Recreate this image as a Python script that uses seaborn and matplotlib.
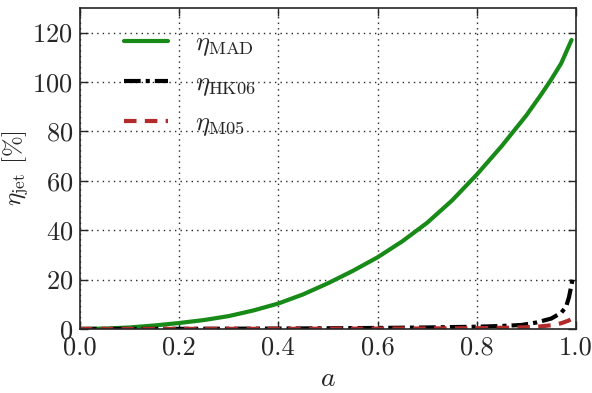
import matplotlib
matplotlib.use("Agg")
import matplotlib.pyplot as plt
import seaborn as sns
import pandas as pd

# data
a_mad = [0.0, 0.05, 0.1, 0.15, 0.2, 0.25, 0.3, 0.35, 0.4, 0.45, 0.5, 0.55, 0.6, 0.65, 0.7, 0.75, 0.8, 0.85, 0.9, 0.93, 0.95, 0.97, 0.991]
eta_mad = [0.0, 0.15, 0.6, 1.4, 2.4, 3.6, 5.2, 7.5, 10.3, 14.0, 18.5, 23.5, 29.0, 35.5, 43.0, 52.0, 62.5, 74.0, 86.5, 95.0, 101.0, 107.5, 117.0]

a_hk = [0.0, 0.2, 0.4, 0.6, 0.7, 0.8, 0.85, 0.89, 0.92, 0.95, 0.97, 0.98, 0.986, 0.99, 0.993]
eta_hk = [0.0, 0.05, 0.15, 0.4, 0.6, 0.9, 1.2, 1.6, 2.6, 4.2, 6.5, 9.0, 13.0, 17.0, 20.0]

a_m05 = [0.0, 0.2, 0.4, 0.6, 0.8, 0.88, 0.92, 0.95, 0.97, 0.984, 0.991]
eta_m05 = [0.0, 0.02, 0.05, 0.12, 0.3, 0.55, 0.85, 1.5, 2.3, 3.3, 4.0]

sns.set_style("ticks")
plt.rcParams.update({
    "font.family": "serif",
    "font.serif": ["cmr10", "DejaVu Serif"],
    "mathtext.fontset": "cm",
    "axes.formatter.use_mathtext": True,
    "axes.unicode_minus": False,
    "xtick.direction": "in",
    "ytick.direction": "in",
    "xtick.top": True,
    "ytick.right": True,
})

fig = plt.figure(figsize=(5.92, 3.93), dpi=100)
ax = fig.add_axes([0.135, 0.163, 0.838, 0.817])

df_mad = pd.DataFrame({"a": a_mad, "eta": eta_mad})
df_hk = pd.DataFrame({"a": a_hk, "eta": eta_hk})
df_m05 = pd.DataFrame({"a": a_m05, "eta": eta_m05})

sns.lineplot(data=df_mad, x="a", y="eta", ax=ax, color="#178a17", lw=3,
             label=r"$\eta_{\rm MAD}$")
sns.lineplot(data=df_hk, x="a", y="eta", ax=ax, color="black", lw=3,
             linestyle=(0, (4, 1.2, 1, 1.2)), label=r"$\eta_{\rm HK06}$")
sns.lineplot(data=df_m05, x="a", y="eta", ax=ax, color="#b22a2a", lw=3,
             linestyle=(0, (3, 2)), label=r"$\eta_{\rm M05}$")

ax.set_xlim(0, 1)
ax.set_ylim(0, 130)
ax.set_xticks([0, 0.2, 0.4, 0.6, 0.8, 1.0])
ax.set_yticks([0, 20, 40, 60, 80, 100, 120])
ax.set_xticklabels(["0.0", "0.2", "0.4", "0.6", "0.8", "1.0"])
ax.tick_params(labelsize=19, length=6, width=1, pad=5)
ax.grid(True, linestyle=(0, (1, 3)), color="0.15", lw=1)
for s in ax.spines.values():
    s.set_linewidth(1.2)
ax.set_xlabel(r"$a$", fontsize=20)
ax.set_ylabel(r"$\eta_{\rm jet}$ [%]", fontsize=18, labelpad=2)
leg = ax.legend(loc="upper left", bbox_to_anchor=(0.04, 1.0), frameon=False,
                fontsize=19, handlelength=1.7, labelspacing=0.5,
                borderaxespad=0.5, handletextpad=1.0, borderpad=0.4)

fig.savefig("out.png", dpi=100)
